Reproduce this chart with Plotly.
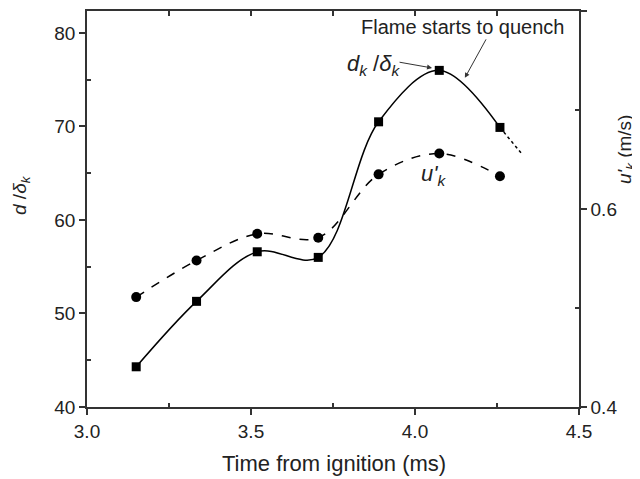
import plotly.graph_objects as go

time_ms = [3.15, 3.334, 3.519, 3.705, 3.889, 4.074, 4.259]
d_ratio = [44.3, 51.3, 56.6, 56.0, 70.5, 76.0, 69.9]
u_k = [0.511, 0.548, 0.575, 0.571, 0.635, 0.656, 0.633]
ext_x = [4.259, 4.325]
ext_y = [69.9, 67.1]

FONT = "Liberation Sans, Arial, sans-serif"
# page body has an 8px margin; figure is offset by (8, 8)
OFF = 8
W, H = 632, 471
L, R, T, B = 87 - OFF, 61, 11 - OFF, 72
fig = go.Figure()
fig.add_trace(go.Scatter(x=time_ms, y=d_ratio, mode="lines+markers",
                         line=dict(color="black", width=1.5, shape="spline", smoothing=1.0),
                         marker=dict(symbol="square", size=9, color="black"),
                         showlegend=False))
fig.add_trace(go.Scatter(x=ext_x, y=ext_y, mode="lines",
                         line=dict(color="black", width=1.5, dash="dot"), showlegend=False))
fig.add_trace(go.Scatter(x=time_ms, y=u_k, mode="lines+markers", yaxis="y2",
                         line=dict(color="black", width=1.5, shape="spline", smoothing=1.0, dash="dash"),
                         marker=dict(symbol="circle", size=10, color="black"),
                         showlegend=False))

axcommon = dict(showline=True, linecolor="#333", linewidth=1.5, ticks="outside", automargin=False,
                ticklen=6, tickwidth=1.5, tickcolor="#333", showgrid=False, zeroline=False,
                tickfont=dict(family=FONT, size=19, color="#222"))
fig.update_layout(
    width=W, height=H, plot_bgcolor="white", paper_bgcolor="white",
    margin=dict(l=L, r=R, t=T, b=B, autoexpand=False),
    xaxis=dict(range=[3.0, 4.5], tickvals=[3.0, 3.5, 4.0, 4.5], ticktext=["3.0", "3.5", "4.0", "4.5"],
               minor=dict(tickvals=[3.25, 3.75, 4.25], ticks="inside", ticklen=4, tickcolor="#333"),
               **axcommon),
    xaxis2=dict(overlaying="x", side="top", range=[3.0, 4.5], showline=True, linecolor="#333", linewidth=1.5,
                ticks="inside", ticklen=5, tickwidth=1.5, tickcolor="#333", automargin=False,
                tickvals=[3.25, 3.5, 3.75, 4.0, 4.25], showticklabels=False, showgrid=False, zeroline=False),
    yaxis=dict(range=[40, 82.35], tickvals=[40, 50, 60, 70, 80],
               minor=dict(tickvals=[45, 55, 65, 75], ticks="inside", ticklen=4, tickcolor="#333"),
               **axcommon),
    yaxis2=dict(overlaying="y", side="right", range=[0.4, 0.8], tickvals=[0.4, 0.6, 0.8],
                ticktext=["0.4", "0.6", "0.8"],
                minor=dict(tickvals=[0.5, 0.7], ticks="inside", ticklen=4, tickcolor="#333"),
                **axcommon),
)
fig.add_trace(go.Scatter(x=[3.0], y=[40], xaxis="x2", mode="markers", marker=dict(opacity=0),
                         showlegend=False, hoverinfo="skip"))

# axis titles (positions given in page pixels)
pw, ph = W - L - R, H - T - B
def px(xp):
    return (xp - OFF - L) / pw
def py(yp):
    return (H - B - (yp - OFF)) / ph
title_kw = dict(xref="paper", yref="paper", showarrow=False, xanchor="center", yanchor="middle")
fig.add_annotation(x=px(334), y=py(463), text="Time from ignition (ms)",
                   font=dict(family=FONT, size=22, color="#222"), **title_kw)
fig.add_annotation(x=px(21), y=py(195), textangle=-90,
                   text="<i>d</i> /<i>δ</i><sub><i>k</i></sub>",
                   font=dict(family=FONT, size=19, color="#222"), **title_kw)
fig.add_annotation(x=px(626), y=py(150), textangle=-90,
                   text="<i>u'</i><sub><i>k</i></sub> (m/s)",
                   font=dict(family=FONT, size=19, color="#222"), **title_kw)

fig.add_annotation(x=4.152, y=75.2, ax=22, ay=-40, text="", showarrow=True,
                   arrowhead=2, arrowsize=1, arrowwidth=1, arrowcolor="#333")
fig.add_annotation(x=4.145, y=80.6, text="Flame starts to quench", showarrow=False,
                   font=dict(family=FONT, size=20, color="#222"))
fig.add_annotation(x=4.052, y=76.26, ax=-34, ay=-6, text="", showarrow=True,
                   arrowhead=2, arrowsize=1, arrowwidth=1, arrowcolor="#333")
fig.add_annotation(x=3.872, y=76.6, text="<i>d</i><sub><i>k</i></sub> /<i>δ</i><sub><i>k</i></sub>",
                   showarrow=False, font=dict(family=FONT, size=22, color="#222"))
fig.add_annotation(x=4.055, y=64.8, text="<i>u'</i><sub><i>k</i></sub>",
                   showarrow=False, font=dict(family=FONT, size=22, color="#222"))

fig.write_html("out.html")
